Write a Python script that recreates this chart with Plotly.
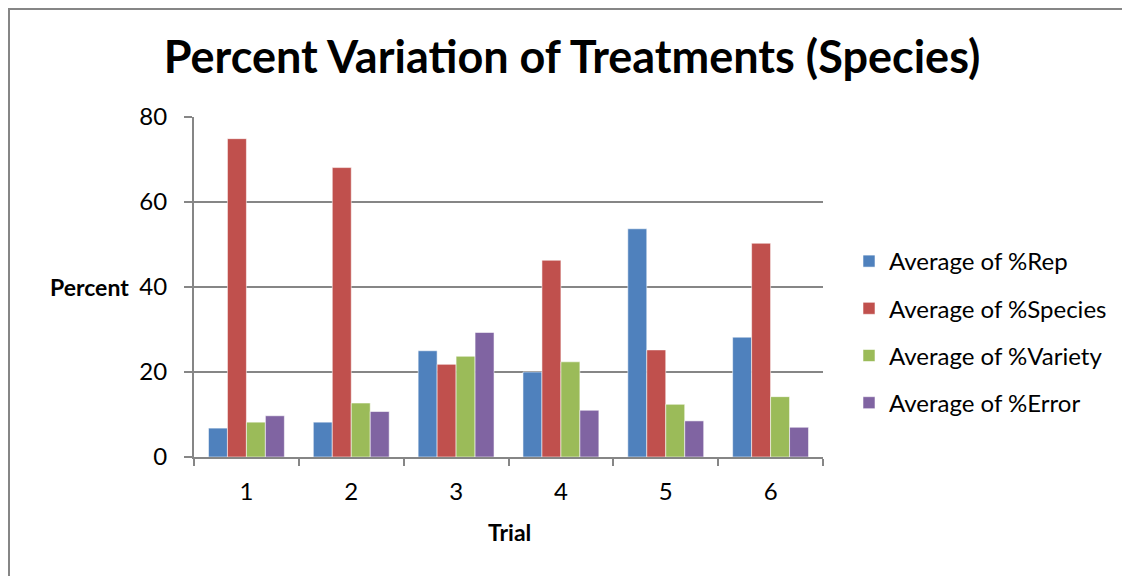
import plotly.graph_objects as go

trials = ["1", "2", "3", "4", "5", "6"]
rep = [6.8, 8.2, 25.0, 20.0, 53.7, 28.2]
species = [74.9, 68.1, 21.8, 46.3, 25.2, 50.3]
variety = [8.2, 12.7, 23.7, 22.4, 12.4, 14.2]
error = [9.7, 10.7, 29.3, 11.0, 8.5, 7.0]

series_names = ["Average of %Rep", "Average of %Species", "Average of %Variety", "Average of %Error"]
series_vals = [rep, species, variety, error]
colors = ["#4F81BD", "#C0504D", "#9BBB59", "#8064A2"]

FONT = "Lato, Open Sans, sans-serif"
GRID = "#868686"

fig = go.Figure()
for i, (name, vals, col) in enumerate(zip(series_names, series_vals, colors)):
    fig.add_trace(go.Bar(
        x=trials, y=vals, name=name, legendgroup=f"g{i}",
        marker=dict(color=col, line=dict(color="rgba(255,255,255,0.55)", width=1)),
    ))

# page body has an 8px margin; work in screen coordinates and shift
OFF = 8
W, H = 1130 - OFF, 576 - OFF
L, R, T, B = 194 - OFF, 823 - OFF, 117 - OFF, 457 - OFF
pw, ph = R - L, B - T

def px(x):
    return (x - OFF - L) / pw

def py(y):
    return (B - (y - OFF)) / ph

fig.update_layout(
    width=W, height=H,
    margin=dict(l=L, r=W - R, t=T, b=H - B, pad=0, autoexpand=False),
    paper_bgcolor="white", plot_bgcolor="white",
    barmode="group", bargap=0.276, bargroupgap=0,
    font=dict(family=FONT, size=24, color="black"),
    title=dict(text="<b>Percent Variation of Treatments (Species)</b>",
               x=(572 - OFF) / W, xanchor="center", y=1 - (57 - OFF) / H, yanchor="middle",
               font=dict(family=FONT, size=45, color="black")),
    legend=dict(x=px(849), y=py(239), xanchor="left", yanchor="top",
                font=dict(family=FONT, size=24), tracegroupgap=13,
                bgcolor="rgba(0,0,0,0)", itemwidth=30),
    showlegend=True,
    xaxis=dict(type="category", showline=True, linecolor=GRID, linewidth=2,
               ticks="outside", tickson="boundaries", ticklen=7, tickwidth=2, tickcolor=GRID,
               showgrid=False, ticklabelstandoff=12, tickfont=dict(size=24)),
    yaxis=dict(range=[0, 80], tickvals=[0, 20, 40, 60, 80], showline=True, linecolor=GRID, linewidth=2,
               ticks="outside", ticklen=8, tickwidth=2, tickcolor=GRID,
               showgrid=True, gridcolor=GRID, gridwidth=1.5, zeroline=False,
               ticklabelstandoff=12, tickfont=dict(size=24)),
    annotations=[
        dict(text="<b>Percent</b>", xref="paper", yref="y", x=px(131), y=40,
             xanchor="right", yanchor="middle", showarrow=False,
             font=dict(family=FONT, size=23)),
        dict(text="<b>Trial</b>", xref="paper", yref="paper", x=px(510), y=py(532),
             xanchor="center", yanchor="middle", showarrow=False,
             font=dict(family=FONT, size=23)),
    ],
    shapes=[
        dict(type="line", xref="paper", yref="paper", x0=px(9), x1=px(9), y0=py(8), y1=py(600),
             line=dict(color=GRID, width=2)),
        dict(type="line", xref="paper", yref="paper", x0=px(9), x1=px(1140), y0=py(9), y1=py(9),
             line=dict(color=GRID, width=2)),
    ],
)

fig.write_html("out.html")
